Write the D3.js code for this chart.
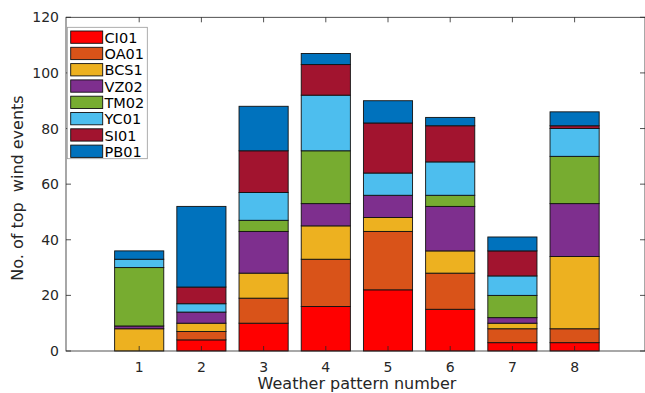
<!DOCTYPE html>
<html>
<head>
<meta charset="utf-8">
<script src="https://cdn.jsdelivr.net/npm/d3@7"></script>
<style>
  body { margin: 0; background: #fff; }
  svg { display: block; font-family: "DejaVu Sans", sans-serif; }
</style>
</head>
<body>
<svg width="645" height="393"></svg>
<script>
// data
var patterns = [1, 2, 3, 4, 5, 6, 7, 8];
var seriesNames = ["CI01", "OA01", "BCS1", "VZ02", "TM02", "YC01", "SI01", "PB01"];
var CI01 = [0, 4, 10, 16, 22, 15, 3, 3];
var OA01 = [0, 3, 9, 17, 21, 13, 5, 5];
var BCS1 = [8, 3, 9, 12, 5, 8, 2, 26];
var VZ02 = [1, 4, 15, 8, 8, 16, 2, 19];
var TM02 = [21, 0, 4, 19, 0, 4, 8, 17];
var YC01 = [3, 3, 10, 20, 8, 12, 7, 10];
var SI01 = [0, 6, 15, 11, 18, 13, 9, 1];
var PB01 = [3, 29, 16, 4, 8, 3, 5, 5];
var yTicks = [0, 20, 40, 60, 80, 100, 120];

var colors = ["#FF0000", "#D95319", "#EDB120", "#7E2F8E", "#77AC30", "#4DBEEE", "#A2142F", "#0072BD"];
var values = [CI01, OA01, BCS1, VZ02, TM02, YC01, SI01, PB01];

var svg = d3.select("svg"),
    box = { left: 66, right: 645, top: 17.3, bottom: 351 };

// x: 1 at 139.2, spacing ~62.2px
var x = d3.scaleLinear().domain([1, 8]).range([139.2, 574.6]);
var step = x(2) - x(1),
    barW = step * 0.79;
var y = d3.scaleLinear().domain([0, 120]).range([box.bottom, box.top]);

// stack the series
var rows = patterns.map(function (p, i) {
  var r = { p: p };
  seriesNames.forEach(function (s, k) { r[s] = values[k][i]; });
  return r;
});
var stacked = d3.stack().keys(seriesNames)(rows);

var axisColor = "#262626";

// bars
svg.append("g").selectAll("g")
  .data(stacked)
  .join("g")
  .attr("fill", function (d, k) { return colors[k]; })
  .selectAll("rect")
  .data(function (d) { return d; })
  .join("rect")
  .attr("x", function (d) { return x(d.data.p) - barW / 2; })
  .attr("y", function (d) { return y(d[1]); })
  .attr("width", barW)
  .attr("height", function (d) { return y(d[0]) - y(d[1]); })
  .attr("stroke", function (d) { return d[1] - d[0] > 0 ? "#111" : "none"; })
  .attr("stroke-width", 0.9);

// box
svg.append("rect")
  .attr("x", box.left).attr("y", box.top)
  .attr("width", box.right - box.left).attr("height", box.bottom - box.top)
  .attr("fill", "none").attr("stroke", axisColor).attr("stroke-width", 0.8);

var tl = 5;
var ticks = svg.append("g").attr("stroke", axisColor).attr("stroke-width", 0.8);
patterns.forEach(function (p) {
  ticks.append("line").attr("x1", x(p)).attr("x2", x(p)).attr("y1", box.bottom).attr("y2", box.bottom - tl);
  ticks.append("line").attr("x1", x(p)).attr("x2", x(p)).attr("y1", box.top).attr("y2", box.top + tl);
});
yTicks.forEach(function (t) {
  ticks.append("line").attr("x1", box.left).attr("x2", box.left + tl).attr("y1", y(t)).attr("y2", y(t));
  ticks.append("line").attr("x1", box.right).attr("x2", box.right - tl).attr("y1", y(t)).attr("y2", y(t));
});

// tick labels
svg.append("g").selectAll("text")
  .data(patterns)
  .join("text")
  .attr("x", function (d) { return x(d); })
  .attr("y", 372)
  .attr("text-anchor", "middle")
  .attr("fill", axisColor)
  .style("font-size", "14px")
  .text(function (d) { return d; });

svg.append("g").selectAll("text")
  .data(yTicks)
  .join("text")
  .attr("x", 59)
  .attr("y", function (d) { return y(d) + 5; })
  .attr("text-anchor", "end")
  .attr("fill", axisColor)
  .style("font-size", "14px")
  .text(function (d) { return d; });

// axis titles
svg.append("text")
  .attr("x", 357).attr("y", 389)
  .attr("text-anchor", "middle")
  .attr("fill", axisColor)
  .style("font-size", "16px")
  .text("Weather pattern number");

svg.append("text")
  .attr("transform", "translate(23,188) rotate(-90)")
  .attr("text-anchor", "middle")
  .attr("fill", axisColor)
  .style("font-size", "16px")
  .style("white-space", "pre")
  .attr("xml:space", "preserve")
  .text("No. of top  wind events");

// legend
var legend = svg.append("g");
legend.append("rect")
  .attr("x", 67.3).attr("y", 27.3)
  .attr("width", 80).attr("height", 131.4)
  .attr("fill", "#fff").attr("stroke", "#999").attr("stroke-width", 0.8);

var item = legend.selectAll("g.item")
  .data(seriesNames)
  .join("g")
  .attr("class", "item")
  .attr("transform", function (d, i) { return "translate(0," + (31 + i * 16.3) + ")"; });
item.append("rect")
  .attr("x", 70.7).attr("y", 0)
  .attr("width", 32).attr("height", 12.3)
  .attr("fill", function (d, i) { return colors[i]; })
  .attr("stroke", "#111").attr("stroke-width", 0.9);
item.append("text")
  .attr("x", 104.5).attr("y", 11.8)
  .attr("fill", "#000")
  .style("font-size", "14.5px")
  .text(function (d) { return d; });
</script>
</body>
</html>
